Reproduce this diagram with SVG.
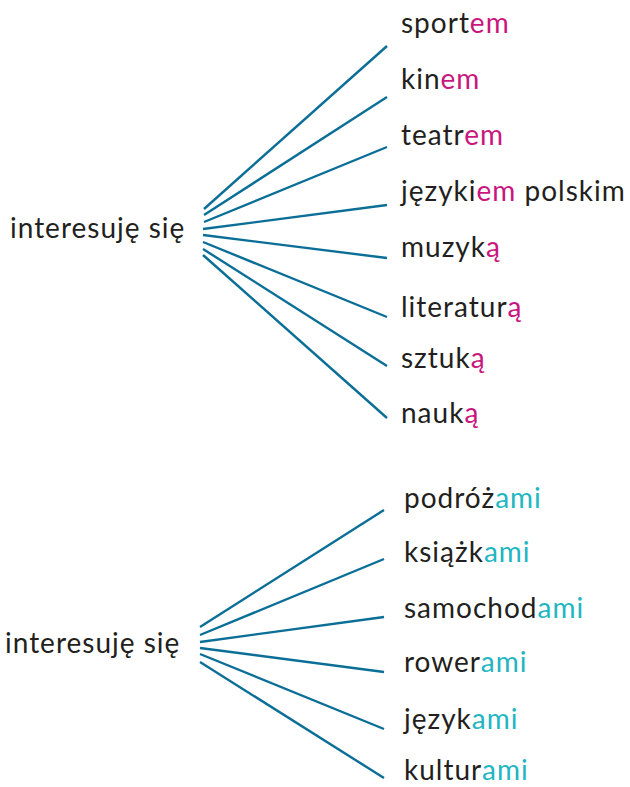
<svg xmlns="http://www.w3.org/2000/svg" width="630" height="787" viewBox="0 0 630 787">
<style>
  text { font-family: Lato, "Open Sans", "DejaVu Sans", sans-serif; font-size: 28px; letter-spacing: 1px; fill: #231f20; }
  .m { fill: #c8167e; }
  .c { fill: #22b5c2; }
  .ln { stroke: #0b6e97; stroke-width: 2.4; stroke-linecap: butt; fill: none; }
</style>
<rect width="630" height="787" fill="#ffffff"/>
<g id="connectors">
  <line class="ln" x1="204" y1="209" x2="387" y2="46"/>
  <line class="ln" x1="204" y1="215" x2="387" y2="97"/>
  <line class="ln" x1="204" y1="222" x2="387" y2="147"/>
  <line class="ln" x1="203" y1="229" x2="387" y2="205"/>
  <line class="ln" x1="203" y1="235" x2="387" y2="258"/>
  <line class="ln" x1="203" y1="242" x2="387" y2="317"/>
  <line class="ln" x1="203" y1="249" x2="387" y2="366"/>
  <line class="ln" x1="203" y1="255" x2="387" y2="418"/>
  <line class="ln" x1="200" y1="627" x2="384" y2="510"/>
  <line class="ln" x1="200" y1="635" x2="384" y2="559"/>
  <line class="ln" x1="200" y1="642" x2="384" y2="617"/>
  <line class="ln" x1="200" y1="648" x2="384" y2="672"/>
  <line class="ln" x1="200" y1="654" x2="384" y2="729"/>
  <line class="ln" x1="200" y1="662" x2="384" y2="778"/>
</g>
<g id="src-top"><text x="10" y="238">interesuję się</text></g>
<g id="t-sportem"><text x="401" y="33">sport<tspan class="m">em</tspan></text></g>
<g id="t-kinem"><text x="401" y="89">kin<tspan class="m">em</tspan></text></g>
<g id="t-teatrem"><text x="401" y="145">teatr<tspan class="m">em</tspan></text></g>
<g id="t-jezykiem"><text x="401" y="201">języki<tspan class="m">em</tspan> polskim</text></g>
<g id="t-muzyka"><text x="401" y="257">muzyk<tspan class="m">ą</tspan></text></g>
<g id="t-literatura"><text x="401" y="317">literatur<tspan class="m">ą</tspan></text></g>
<g id="t-sztuka"><text x="401" y="368">sztuk<tspan class="m">ą</tspan></text></g>
<g id="t-nauka"><text x="401" y="423">nauk<tspan class="m">ą</tspan></text></g>
<g id="src-bottom"><text x="5" y="653">interesuję się</text></g>
<g id="t-podrozami"><text x="404" y="508">podróż<tspan class="c">ami</tspan></text></g>
<g id="t-ksiazkami"><text x="404" y="562">książk<tspan class="c">ami</tspan></text></g>
<g id="t-samochodami"><text x="404" y="618">samochod<tspan class="c">ami</tspan></text></g>
<g id="t-rowerami"><text x="404" y="672">rower<tspan class="c">ami</tspan></text></g>
<g id="t-jezykami"><text x="404" y="729">język<tspan class="c">ami</tspan></text></g>
<g id="t-kulturami"><text x="404" y="780">kultur<tspan class="c">ami</tspan></text></g>
</svg>
